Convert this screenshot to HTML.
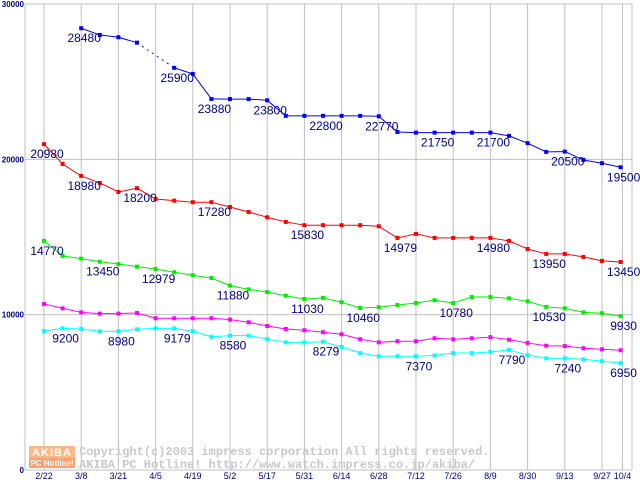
<!DOCTYPE html>
<html><head><meta charset="utf-8"><style>
html,body{margin:0;padding:0;background:#fff;}
svg{display:block;}
text{font-family:"Liberation Sans",sans-serif;}
text.mono{font-family:"Liberation Mono",monospace;}
</style></head><body>
<svg id="chart" width="640" height="480" xmlns="http://www.w3.org/2000/svg"></svg>
<script>
const xTickLabels=["2/22","3/8","3/21","4/5","4/19","5/2","5/17","5/31","6/14","6/28","7/12","7/26","8/9","8/30","9/13","9/27","10/4"];
const xTickSlots=[0,2,4,6,8,10,12,14,16,18,20,22,24,26,28,30,31.1];
const yTicks=[0,10000,20000,30000];
const blueVals=[null,null,28440,28010,27860,27510,null,25890,25500,23890,23880,23880,23800,22800,22800,22800,22800,22800,22770,21760,21720,21720,21720,21720,21720,21510,21040,20480,20500,19960,19750,19490];
const redVals=[20980,19700,18930,18480,17900,18140,17450,17340,17240,17240,16930,16610,16270,15970,15760,15760,15760,15760,15690,14940,15200,14940,14940,14940,14940,14750,14230,13910,13910,13720,13460,13390];
const greenVals=[14750,13780,13610,13410,13260,13090,12940,12730,12540,12360,11870,11630,11460,11220,11010,11080,10800,10430,10480,10620,10750,10930,10750,11140,11140,11050,10860,10500,10410,10150,10090,9900];
const magentaVals=[10690,10410,10150,10070,10070,10110,9770,9770,9770,9770,9680,9510,9270,9080,9000,8870,8740,8420,8220,8290,8290,8480,8420,8480,8550,8390,8180,8000,7980,7840,7770,7710];
const cyanVals=[8950,9120,9080,8930,8930,9060,9120,9120,8930,8580,8650,8650,8430,8220,8220,8260,7920,7530,7320,7320,7320,7380,7530,7530,7600,7730,7400,7190,7190,7130,7000,6890];
const blueLabelSlots=[2,7,9,12,15,18,21,24,28,31];
const blueLabels=["28480","25900","23880","23800","22800","22770","21750","21700","20500","19500"];
const redLabelSlots=[0,2,5,9,14,19,24,27,31];
const redLabels=["20980","18980","18200","17280","15830","14979","14980","13950","13450"];
const greenLabelSlots=[0,3,6,10,14,17,22,27,31];
const greenLabels=["14770","13450","12979","11880","11030","10460","10780","10530","9930"];
const cyanLabelSlots=[1,4,7,10,15,20,25,28,31];
const cyanLabels=["9200","8980","9179","8580","8279","7370","7790","7240","6950"];

const NS="http://www.w3.org/2000/svg";
const svg=document.getElementById('chart');
const L=25,R=632,T=4,B=470;
function xS(k){return 44+k*18.6;}
function yS(v){return B-(v/30000)*(B-T);}
function mk(tag,attrs,parent){const e=document.createElementNS(NS,tag);for(const k in attrs)e.setAttribute(k,attrs[k]);(parent||svg).appendChild(e);return e;}

xTickSlots.forEach((s,i)=>{
  const g=mk('line',{x1:xS(s),x2:xS(s),y1:T,y2:B,stroke:'#c0c0c0','stroke-width':1});
  
  
  const t=mk('text',{x:xS(s),y:479,'text-anchor':'middle','font-size':9,fill:'#000080'});
  t.textContent=xTickLabels[i];
  
  
});
yTicks.forEach(v=>{
  const g=mk('line',{x1:L,x2:R,y1:yS(v),y2:yS(v),stroke:'#c0c0c0','stroke-width':1});
  
  
  const t=mk('text',{x:24,y:Math.max(yS(v)+3,7),'text-anchor':'end','font-size':8,'font-weight':'bold',fill:'#000080'});
  t.textContent=String(v);
  
  
});
const ax=mk('line',{x1:L,x2:L,y1:T,y2:B,stroke:'#c0c0c0'});


const rx=mk('line',{x1:R,x2:R,y1:T,y2:B,stroke:'#c0c0c0'});



const wm=mk('g',{});


mk('rect',{x:29,y:446,width:46,height:12,fill:'#f8b888'},wm);
mk('rect',{x:29,y:458,width:46,height:10,fill:'#f8a070'},wm);
const a1=mk('text',{x:52,y:456,'text-anchor':'middle','font-size':11,'font-weight':'bold',fill:'#fff','letter-spacing':'1'},wm);a1.textContent='AKIBA';
const a2=mk('text',{x:52,y:466,'text-anchor':'middle','font-size':8,'font-weight':'bold',fill:'#fff'},wm);a2.textContent='PC Hotline!';
const w1=mk('text',{x:79,y:455,'font-size':12,'font-weight':'bold',fill:'#c8c8c8',class:'mono',style:'font-family:"Liberation Mono",monospace'},wm);w1.textContent='Copyright(c)2003 impress corporation All rights reserved.';
const w2=mk('text',{x:79,y:468,'font-size':12,'font-weight':'bold',fill:'#c8c8c8',class:'mono',style:'font-family:"Liberation Mono",monospace'},wm);w2.textContent='AKIBA PC Hotline!  http://www.watch.impress.co.jp/akiba/';

function drawSeries(vals,color,name,lblSlots,lbls){
  const g=mk('g',{});
  
  
  for(let i=0;i<vals.length-1;i++){
    if(vals[i]==null)continue;
    let j=i+1;while(j<vals.length&&vals[j]==null)j++;
    if(j>=vals.length)break;
    const seg=mk('line',{x1:xS(i),y1:yS(vals[i]),x2:xS(j),y2:yS(vals[j]),stroke:color,'stroke-width':1});
    if(j-i>1)seg.setAttribute('stroke-dasharray','2,4');
    
    
    g.appendChild(seg);
  }
  vals.forEach((v,i)=>{
    if(v==null)return;
    const p=mk('rect',{x:xS(i)-2,y:yS(v)-2,width:4,height:4,fill:color},g);
    
    
  });
  lblSlots.forEach((k,i)=>{
    let v=vals[k];
    const t=mk('text',{x:xS(k)+3,y:yS(v)+14,'text-anchor':'middle','font-size':12,fill:'#000080'},g);
    t.textContent=lbls[i];
    
    
  });
}
drawSeries(cyanVals,'#00ffff','cyan',cyanLabelSlots,cyanLabels);
drawSeries(magentaVals,'#ff00ff','magenta',[],[]);
drawSeries(greenVals,'#00ee00','green',greenLabelSlots,greenLabels);
drawSeries(redVals,'#ff0000','red',redLabelSlots,redLabels);
drawSeries(blueVals,'#0000ff','blue',blueLabelSlots,blueLabels);
</script>
</body></html>
